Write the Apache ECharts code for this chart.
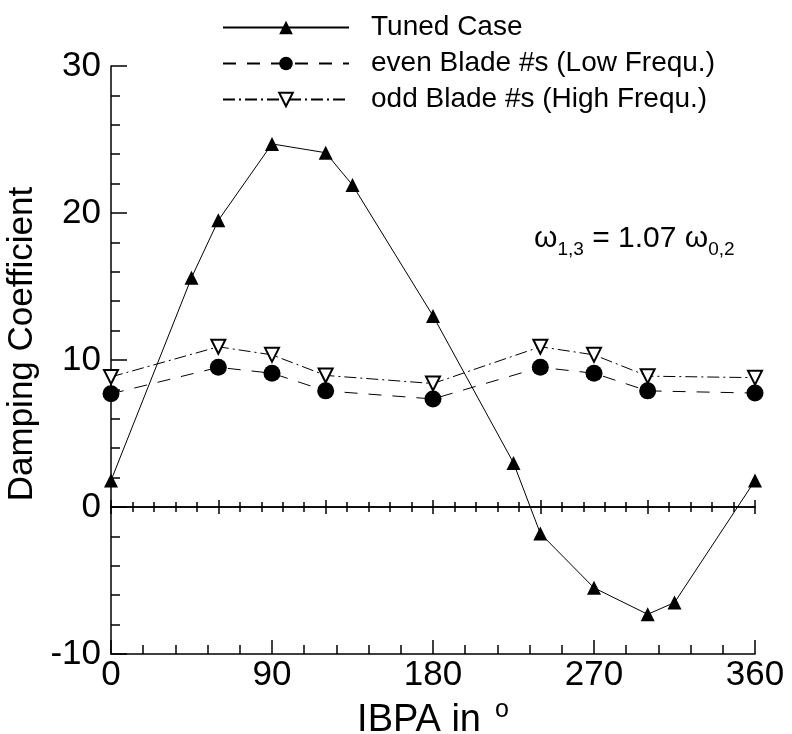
<!DOCTYPE html>
<html>
<head>
<meta charset="utf-8">
<script src="https://cdn.jsdelivr.net/npm/echarts@6/dist/echarts.min.js"></script>
<style>html,body{margin:0;padding:0;background:#fff}#c{width:792px;height:734px}</style>
</head>
<body>
<div id="c"></div>
<script>
var tunedX = [0, 45, 60, 90, 120, 135, 180, 225, 240, 270, 300, 315, 360];
var tunedY = [1.8, 15.6, 19.5, 24.7, 24.1, 21.9, 13.0, 3.0, -1.8, -5.5, -7.3, -6.5, 1.8];
var bladeX = [0, 60, 90, 120, 180, 240, 270, 300, 360];
var evenY = [7.7, 9.5, 9.1, 7.9, 7.35, 9.5, 9.1, 7.9, 7.75];
var oddY = [8.85, 10.9, 10.35, 8.95, 8.4, 10.9, 10.35, 8.9, 8.8];
var seriesNames = ['Tuned Case', 'even Blade #s (Low Frequ.)', 'odd Blade #s (High Frequ.)'];
var xTicks = [0, 90, 180, 270, 360];
var yTicks = [-10, 0, 10, 20, 30];

function pairs(xs, ys) { return xs.map(function (x, i) { return [x, ys[i]]; }); }

var FONT = 'Liberation Sans, Arial, sans-serif';
var chart = echarts.init(document.getElementById('c'));
var axisLineStyle = { color: '#000', width: 1.5 };

// layout of the plot area (pixels)
var G = { left: 111, right: 37, top: 66, bottom: 80 };
var plotH = 734 - G.top - G.bottom;
var yMin = -10, yMax = 30;
var zeroFromTop = G.top + plotH * (yMax - 0) / (yMax - yMin);

function zeroAxis(gridIndex, position) {
  return {
    gridIndex: gridIndex, type: 'value', min: 0, max: 360, interval: 60, position: position,
    axisLine: { onZero: false, lineStyle: axisLineStyle },
    axisTick: { inside: true, length: 7, lineStyle: axisLineStyle },
    minorTick: { show: true, splitNumber: 5, length: 5, lineStyle: { color: '#000', width: 1.5 } },
    splitLine: { show: false }, axisLabel: { show: false }
  };
}
function hiddenY(gridIndex) {
  return { gridIndex: gridIndex, type: 'value', min: 0, max: 1, show: false,
    axisLine: { show: false }, axisTick: { show: false }, axisLabel: { show: false }, splitLine: { show: false } };
}

chart.setOption({
  animation: false,
  backgroundColor: '#fff',
  textStyle: { fontFamily: FONT, color: '#000' },
  grid: [
    { left: G.left, right: G.right, top: G.top, bottom: G.bottom, containLabel: false, outerBoundsMode: 'none' },
    { left: G.left, right: G.right, top: G.top, bottom: 734 - zeroFromTop, containLabel: false, outerBoundsMode: 'none' },
    { left: G.left, right: G.right, top: zeroFromTop, bottom: G.bottom, containLabel: false, outerBoundsMode: 'none' }
  ],
  legend: {
    left: 217, top: 8, orient: 'vertical',
    itemWidth: 126, itemHeight: 17, itemGap: 7,
    data: seriesNames,
    textStyle: { fontFamily: FONT, fontSize: 28, color: '#000', padding: [0, 0, 0, 17], lineHeight: 29 }
  },
  xAxis: [
    {
      gridIndex: 0, type: 'value', min: 0, max: 360, interval: 90, position: 'bottom',
      axisLine: { onZero: false, lineStyle: axisLineStyle },
      axisTick: { inside: true, length: 14, lineStyle: axisLineStyle },
      minorTick: { show: true, splitNumber: 5, length: 9, lineStyle: { color: '#000', width: 1.5 } },
      splitLine: { show: false },
      axisLabel: { fontSize: 35, color: '#000', margin: 4, fontFamily: FONT,
        formatter: function (v) { return xTicks.indexOf(v) >= 0 ? String(v) : ''; } },
      name: '{a|IBPA in}{s|o}', nameLocation: 'middle', nameGap: 39,
      nameTextStyle: { rich: {
        a: { fontSize: 38, fontFamily: FONT, color: '#000', verticalAlign: 'bottom' },
        s: { fontSize: 25, fontFamily: FONT, color: '#000', verticalAlign: 'bottom', padding: [0, 0, 17, 14] }
      } }
    },
    zeroAxis(1, 'bottom'),
    zeroAxis(2, 'top')
  ],
  yAxis: [
    {
      gridIndex: 0, type: 'value', min: yMin, max: yMax, interval: 10,
      axisLine: { show: true, onZero: false, lineStyle: axisLineStyle },
      axisTick: { inside: true, length: 16, lineStyle: axisLineStyle },
      minorTick: { show: true, splitNumber: 5, length: 9, lineStyle: { color: '#000', width: 1.5 } },
      splitLine: { show: false },
      axisLabel: { fontSize: 35, color: '#000', margin: 10, fontFamily: FONT,
        formatter: function (v) { return yTicks.indexOf(v) >= 0 ? String(v) : ''; } },
      name: 'Damping Coefficient', nameLocation: 'middle', nameGap: 64, nameRotate: 90,
      nameTextStyle: { fontSize: 35, fontFamily: FONT, color: '#000', padding: [0, 0, 0, 32] }
    },
    hiddenY(1),
    hiddenY(2)
  ],
  graphic: [{
    type: 'text', left: 534, top: 224,
    style: {
      text: '{w|ω}{sub|1,3}{t| = 1.07 }{w|ω}{sub|0,2}',
      rich: {
        w: { fontSize: 30, fontFamily: FONT, fill: '#000', verticalAlign: 'top' },
        t: { fontSize: 30, fontFamily: FONT, fill: '#000', verticalAlign: 'top' },
        sub: { fontSize: 19, fontFamily: FONT, fill: '#000', verticalAlign: 'top', padding: [16, 0, 0, 0] }
      }
    }
  }],
  series: [
    {
      name: seriesNames[0], type: 'line', data: pairs(tunedX, tunedY), clip: false, z: 5,
      xAxisIndex: 0, yAxisIndex: 0,
      symbol: 'triangle', symbolSize: 14,
      lineStyle: { color: '#000', width: 1, type: 'solid' },
      itemStyle: { color: '#000', borderWidth: 0 }
    },
    {
      name: seriesNames[1], type: 'line', data: pairs(bladeX, evenY), clip: false, z: 4,
      xAxisIndex: 0, yAxisIndex: 0,
      symbol: 'circle', symbolSize: 17,
      lineStyle: { color: '#000', width: 1, type: [13, 11] },
      itemStyle: { color: '#000', borderWidth: 0 }
    },
    {
      name: seriesNames[2], type: 'line', data: pairs(bladeX, oddY), clip: false, z: 3,
      xAxisIndex: 0, yAxisIndex: 0,
      symbol: 'emptyTriangle', symbolRotate: 180, symbolSize: 14,
      lineStyle: { color: '#000', width: 1, type: [12, 4, 2, 4] },
      itemStyle: { color: '#000', borderColor: '#000', borderWidth: 1 }
    }
  ]
});
</script>
</body>
</html>
